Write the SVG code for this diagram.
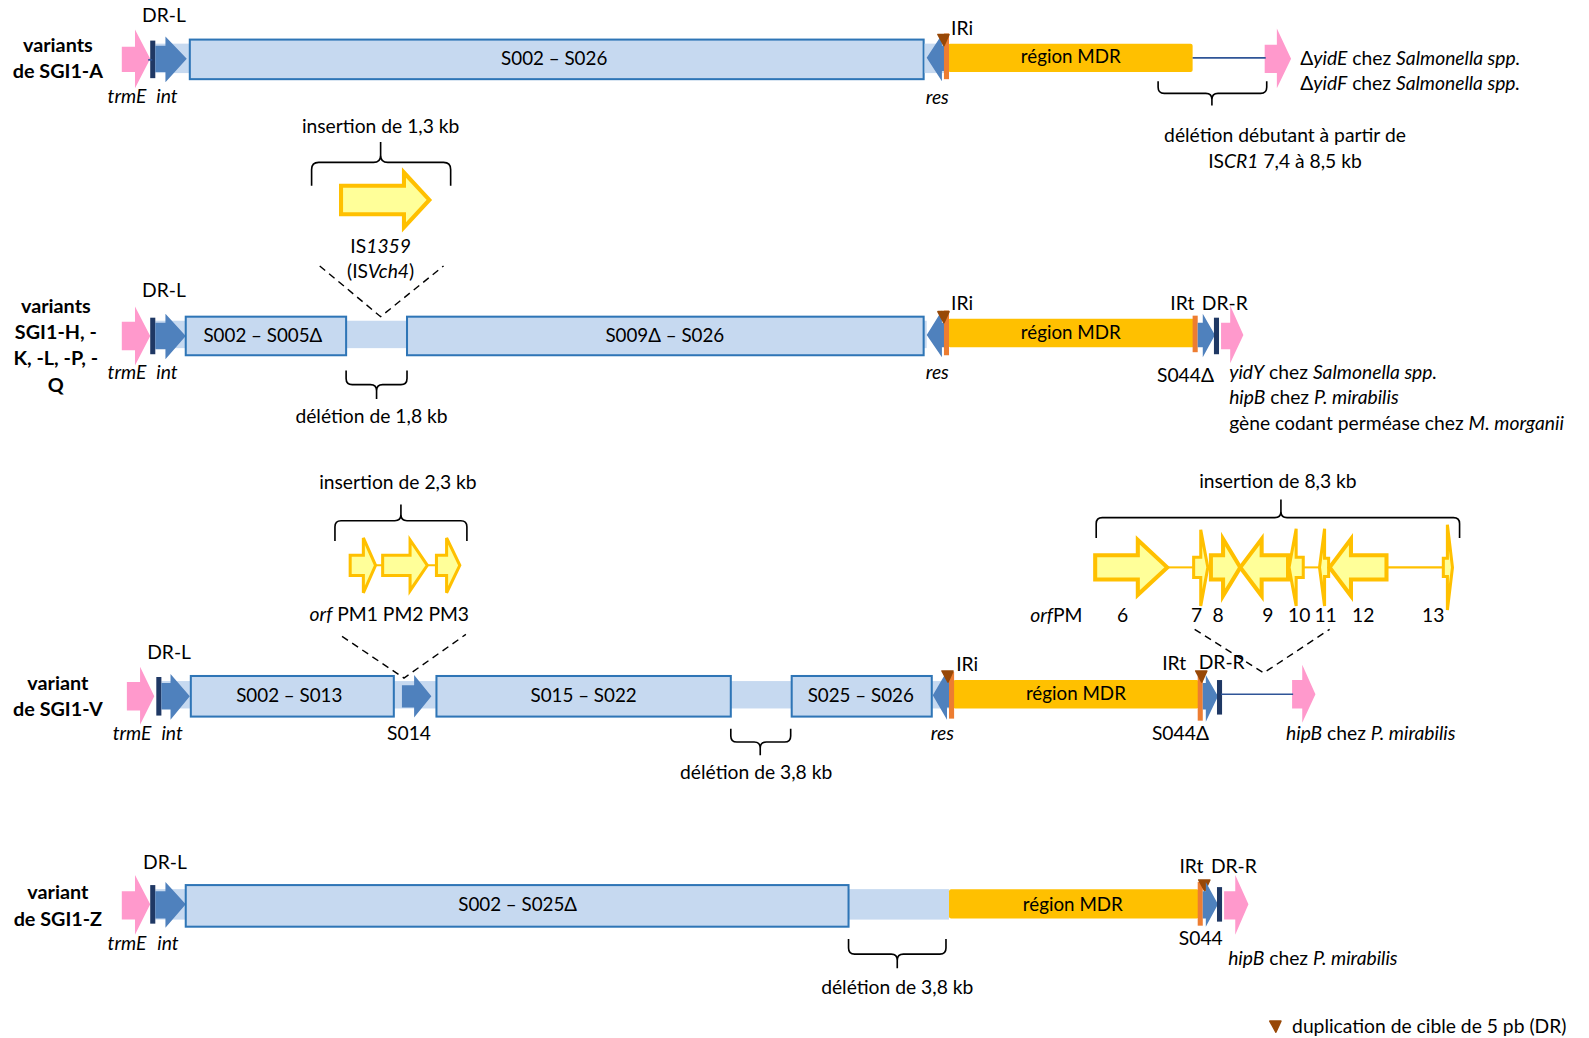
<svg xmlns="http://www.w3.org/2000/svg" width="1589" height="1038" viewBox="0 0 1589 1038">
<style>
text{font-family:Lato,"Liberation Sans",sans-serif;font-size:19px;fill:#000}
.b{font-weight:bold;font-size:19.5px}
.m{text-anchor:middle}
.s{font-size:18.5px}
.i{font-style:italic}
.box{fill:#C6D9F0;stroke:#2E75B6;stroke-width:2}
.band{fill:#C6D9F0}
.int{fill:#4F81BD}
.dr{fill:#1F3864}
.pink{fill:#FF99CC}
.mdr{fill:#FFC000}
.ir{fill:#ED7D31}
.dup{fill:#984807;stroke:#984807;stroke-width:1.5;stroke-linejoin:round}
.yel{fill:#FFFF99;stroke:#FFC000;stroke-width:4;stroke-linejoin:miter}
.yel3{fill:#FFFF99;stroke:#FFC000;stroke-width:3}
.ylin{stroke:#FFC000;stroke-width:2}
.brace{fill:none;stroke:#000;stroke-width:1.6}
.dash{stroke:#000;stroke-width:1.4;stroke-dasharray:7 5;fill:none}
.thin{stroke:#2F5597;stroke-width:1.6}
</style>
<rect width="1589" height="1038" fill="#fff"/>
<g transform="scale(1.015)">

<!-- ROW 1 -->
<g id="row1">
<text class="b m" x="57" y="51">variants</text>
<text class="b m" x="57" y="77">de SGI1-A</text>
<g id="r1-trmE"><polygon class="pink" points="120,46 133,46 133,29 148,58 133,87 133,71 120,71"/><text class="i" x="106" y="101">trmE</text></g>
<rect class="band" x="153" y="43" width="35" height="29"/>
<g id="r1-drl"><rect class="dr" x="148" y="40" width="5" height="37"/><text x="140" y="22">DR-L</text></g>
<g id="r1-int"><polygon class="int" points="153,45 163,45 163,36 184,58 163,81 163,71 153,71"/><text class="i" x="154" y="101">int</text></g>
<g id="r1-box"><rect class="box" x="187" y="39" width="723" height="39"/><text class="m s" x="546" y="64">S002 – S026</text></g>
<rect class="band" x="911" y="43" width="24" height="29"/>
<g id="r1-res"><polygon class="int" points="913,57 928,34 928,45 933,45 933,70 928,70 928,80"/><text class="i" x="912" y="102">res</text></g>
<g id="r1-mdr"><rect class="mdr" x="934" y="43" width="241" height="28" rx="2"/><text class="m s" x="1055" y="62">région MDR</text></g>
<g id="r1-iri"><rect class="ir" x="930" y="33" width="5" height="45"/><path class="dup" d="M924,34 L935,34 L930,45 Z"/><text x="937" y="34">IRi</text></g>
<g id="r1-yid"><polygon class="pink" points="1246,44 1258,44 1258,28 1272,58 1258,87 1258,72 1246,72"/>
<text x="1281" y="64">Δ<tspan class="i">yidE</tspan> chez <tspan class="i">Salmonella spp.</tspan></text>
<text x="1281" y="89">Δ<tspan class="i">yidF</tspan> chez <tspan class="i">Salmonella spp.</tspan></text></g>
<g id="r1-del"><text class="m" x="1266" y="140">délétion débutant à partir de</text>
<text class="m" x="1266" y="166">IS<tspan class="i">CR1</tspan> 7,4 à 8,5 kb</text></g>
</g>

<!-- INSERTION 1 -->
<g id="ins1">
<text class="m" x="375" y="131">insertion de 1,3 kb</text>
<polygon class="yel" points="336,183 398,183 398,170 423,197 398,224 398,211 336,211"/>
<text class="m" x="375" y="249">IS<tspan class="i">1359</tspan></text>
<text class="m" x="375" y="274">(IS<tspan class="i">Vch4</tspan>)</text>
</g>

<!-- ROW 2 -->
<g id="row2">
<text class="b m" x="55" y="308">variants</text>
<text class="b m" x="55" y="334">SGI1-H, -</text>
<text class="b m" x="55" y="360">K, -L, -P, -</text>
<text class="b m" x="55" y="386">Q</text>
<g id="r2-trmE"><polygon class="pink" points="120,317 133,317 133,302 148,331 133,360 133,345 120,345"/><text class="i" x="106" y="373">trmE</text></g>
<rect class="band" x="153" y="316" width="760" height="27"/>
<g id="r2-drl"><rect class="dr" x="148" y="313" width="5" height="36"/><text x="140" y="293">DR-L</text></g>
<g id="r2-int"><polygon class="int" points="153,318 163,318 163,309 183,331 163,354 163,344 153,344"/><text class="i" x="154" y="373">int</text></g>
<g id="r2-box1"><rect class="box" x="183" y="312" width="158" height="38"/><text class="m s" x="259" y="337">S002 – S005Δ</text></g>
<g id="r2-box2"><rect class="box" x="401" y="312" width="509" height="38"/><text class="m s" x="655" y="337">S009Δ – S026</text></g>
<g id="r2-del"><text class="m" x="366" y="417">délétion de 1,8 kb</text></g>
<g id="r2-res"><polygon class="int" points="913,330 928,306 928,318 933,318 933,342 928,342 928,352"/><text class="i" x="912" y="373">res</text></g>
<g id="r2-mdr"><rect class="mdr" x="934" y="314" width="243" height="28" rx="2"/><text class="m s" x="1055" y="334">région MDR</text></g>
<g id="r2-iri"><rect class="ir" x="930" y="306" width="5" height="44"/><path class="dup" d="M924,307 L935,307 L930,318 Z"/><text x="937" y="305">IRi</text></g>
<g id="r2-irt"><rect class="ir" x="1175" y="311" width="5" height="36"/><text x="1153" y="305">IRt</text></g>
<g id="r2-s044"><polygon class="int" points="1180,318 1185,318 1185,309 1197,330 1185,352 1185,342 1180,342"/><text class="m" x="1168" y="376">S044Δ</text></g>
<g id="r2-drr"><rect class="dr" x="1196" y="313" width="5" height="36"/><text x="1184" y="305">DR-R</text></g>
<g id="r2-yid"><polygon class="pink" points="1203,318 1212,318 1212,301 1225,330 1212,358 1212,344 1203,344"/>
<text x="1211" y="373"><tspan class="i">yidY</tspan> chez <tspan class="i">Salmonella spp.</tspan></text>
<text x="1211" y="398"><tspan class="i">hipB</tspan> chez <tspan class="i">P. mirabilis</tspan></text>
<text x="1211" y="424">gène codant perméase chez <tspan class="i">M. morganii</tspan></text></g>
</g>

<!-- INSERTION 2 -->
<g id="ins2">
<text class="m" x="392" y="482">insertion de 2,3 kb</text>
<line class="ylin" x1="368" y1="557" x2="432" y2="557"/>
<polygon class="yel3" points="345,547 358,547 358,530 370,557 358,584 358,567 345,567"/>
<polygon class="yel3" points="377,547 404,547 404,532 421,557 404,582 404,567 377,567"/>
<polygon class="yel3" points="430,547 440,547 440,530 453,557 440,584 440,567 430,567"/>
<text x="305" y="612"><tspan class="i">orf</tspan> PM1 PM2 PM3</text>
</g>

<!-- INSERTION 3 -->
<g id="ins3">
<text class="m" x="1259" y="481">insertion de 8,3 kb</text>
<line class="ylin" x1="1148" y1="559" x2="1177" y2="559"/>
<line class="ylin" x1="1283" y1="559" x2="1301" y2="559"/>
<line class="ylin" x1="1364" y1="559" x2="1424" y2="559"/>
<polygon class="yel" points="1079,547 1121,547 1121,532 1150,559 1121,586 1121,571 1079,571"/>
<polygon class="yel3" points="1176,549 1183,549 1183,522 1190,559 1183,597 1183,569 1176,569"/>
<polygon class="yel" points="1193,547 1205,547 1205,531 1222,559 1205,587 1205,571 1193,571"/>
<polygon class="yel" points="1222,559 1243,531 1243,547 1269,547 1269,571 1243,571 1243,587"/>
<polygon class="yel3" points="1270,559 1277,521 1277,549 1284,549 1284,569 1277,569 1277,597"/>
<polygon class="yel3" points="1300,559 1305,521 1305,550 1309,550 1309,568 1305,568 1305,597"/>
<polygon class="yel" points="1310,559 1331,531 1331,547 1366,547 1366,571 1331,571 1331,587"/>
<polygon class="yel3" points="1422,550 1426,550 1426,517 1431,559 1426,601 1426,568 1422,568"/>
<text x="1015" y="613"><tspan class="i">orf</tspan>PM</text>
<text class="m" x="1106" y="613">6</text>
<text class="m" x="1179" y="613">7</text>
<text class="m" x="1200" y="613">8</text>
<text class="m" x="1249" y="613">9</text>
<text class="m" x="1280" y="613">10</text>
<text class="m" x="1306" y="613">11</text>
<text class="m" x="1343" y="613">12</text>
<text class="m" x="1412" y="613">13</text>
</g>

<!-- ROW 3 -->
<g id="row3">
<text class="b m" x="57" y="680">variant</text>
<text class="b m" x="57" y="705">de SGI1-V</text>
<g id="r3-trmE"><polygon class="pink" points="125,672 138,672 138,657 152,686 138,714 138,700 125,700"/><text class="i" x="111" y="729">trmE</text></g>
<rect class="band" x="159" y="671" width="781" height="27"/>
<g id="r3-drl"><rect class="dr" x="154" y="667" width="5" height="38"/><text x="145" y="649">DR-L</text></g>
<g id="r3-int"><polygon class="int" points="159,673 168,673 168,664 187,686 168,709 168,699 159,699"/><text class="i" x="159" y="729">int</text></g>
<g id="r3-box1"><rect class="box" x="188" y="666" width="200" height="40"/><text class="m s" x="285" y="692">S002 – S013</text></g>
<g id="r3-s014"><polygon class="int" points="396,675 408,675 408,665 425,686 408,707 408,697 396,697"/><text class="m" x="403" y="729">S014</text></g>
<g id="r3-box2"><rect class="box" x="430" y="666" width="290" height="40"/><text class="m s" x="575" y="692">S015 – S022</text></g>
<g id="r3-box3"><rect class="box" x="780" y="666" width="138" height="40"/><text class="m s" x="848" y="692">S025 – S026</text></g>
<g id="r3-del"><text class="m" x="745" y="767">délétion de 3,8 kb</text></g>
<g id="r3-res"><polygon class="int" points="919,685 933,661 933,672 937,672 937,697 933,697 933,709"/><text class="i" x="917" y="729">res</text></g>
<g id="r3-mdr"><rect class="mdr" x="939" y="670" width="242" height="28" rx="2"/><text class="m s" x="1060" y="690">région MDR</text></g>
<g id="r3-iri"><rect class="ir" x="935" y="662" width="5" height="46"/><path class="dup" d="M928,661 L939,661 L934,672 Z"/><text x="942" y="661">IRi</text></g>
<g id="r3-irt"><rect class="ir" x="1180" y="666" width="5" height="44"/><path class="dup" d="M1178,661 L1189,661 L1184,672 Z"/><text x="1145" y="660">IRt</text></g>
<g id="r3-s044"><polygon class="int" points="1185,673 1188,673 1188,665 1200,686 1188,711 1188,699 1185,699"/><text class="m" x="1163" y="729">S044Δ</text></g>
<g id="r3-drr"><rect class="dr" x="1199" y="670" width="5" height="34"/><text x="1181" y="659">DR-R</text></g>
<g id="r3-hipb"><polygon class="pink" points="1273,670 1283,670 1283,655 1296,684 1283,712 1283,698 1273,698"/>
<text x="1267" y="729"><tspan class="i">hipB</tspan> chez <tspan class="i">P. mirabilis</tspan></text></g>
</g>

<!-- ROW 4 -->
<g id="row4">
<text class="b m" x="57" y="886">variant</text>
<text class="b m" x="57" y="912">de SGI1-Z</text>
<g id="r4-trmE"><polygon class="pink" points="120,878 133,878 133,862 148,891 133,921 133,906 120,906"/><text class="i" x="106" y="936">trmE</text></g>
<rect class="band" x="153" y="876" width="782" height="30"/>
<g id="r4-drl"><rect class="dr" x="148" y="872" width="5" height="38"/><text x="141" y="856">DR-L</text></g>
<g id="r4-int"><polygon class="int" points="153,878 163,878 163,869 183,891 163,914 163,905 153,905"/><text class="i" x="155" y="936">int</text></g>
<g id="r4-box"><rect class="box" x="183" y="872" width="653" height="41"/><text class="m s" x="510" y="898">S002 – S025Δ</text></g>
<g id="r4-del"><text class="m" x="884" y="979">délétion de 3,8 kb</text></g>
<g id="r4-mdr"><rect class="mdr" x="935" y="876" width="246" height="29" rx="2"/><text class="m s" x="1057" y="898">région MDR</text></g>
<g id="r4-irt"><rect class="ir" x="1180" y="869" width="5" height="43"/><path class="dup" d="M1181,867 L1192,867 L1187,878 Z"/><text x="1162" y="860">IRt</text></g>
<g id="r4-s044"><polygon class="int" points="1185,878 1188,878 1188,869 1200,891 1188,913 1188,905 1185,905"/><text class="m" x="1183" y="931">S044</text></g>
<g id="r4-drr"><rect class="dr" x="1199" y="874" width="5" height="34"/><text x="1193" y="860">DR-R</text></g>
<g id="r4-hipb"><polygon class="pink" points="1206,878 1217,878 1217,862 1230,891 1217,921 1217,906 1206,906"/>
<text x="1210" y="951"><tspan class="i">hipB</tspan> chez <tspan class="i">P. mirabilis</tspan></text></g>
</g>

<!-- LEGEND -->
<g id="legend"><path class="dup" d="M1251,1006 L1262,1006 L1257,1017 Z"/><text x="1273" y="1018">duplication de cible de 5 pb (DR)</text></g>

<!-- CONNECTORS -->
<g id="connectors">
<line class="thin" x1="146" y1="59" x2="150" y2="59"/>
<line class="thin" x1="1175" y1="57" x2="1247" y2="57"/>
<line class="thin" x1="1203" y1="684" x2="1274" y2="684"/>
<path class="brace" d="M1141,80 L1141,86 Q1141,92 1147,92 L1188,92 Q1194,92 1194,98 L1194,104 M1194,98 Q1194,92 1200,92 L1242,92 Q1248,92 1248,86 L1248,80"/>
<path class="brace" d="M307,183 L307,167 Q307,160 314,160 L368,160 Q375,160 375,153 L375,140 M375,153 Q375,160 382,160 L437,160 Q444,160 444,167 L444,183"/>
<path class="brace" d="M341,365 L341,373 Q341,379 347,379 L365,379 Q371,379 371,385 L371,393 M371,385 Q371,379 377,379 L395,379 Q401,379 401,373 L401,365"/>
<path class="brace" d="M330,533 L330,519 Q330,513 336,513 L389,513 Q395,513 395,507 L395,497 M395,507 Q395,513 401,513 L454,513 Q460,513 460,519 L460,533"/>
<path class="brace" d="M1080,530 L1080,516 Q1080,510 1086,510 L1256,510 Q1262,510 1262,504 L1262,492 M1262,504 Q1262,510 1268,510 L1432,510 Q1438,510 1438,516 L1438,530"/>
<path class="brace" d="M720,718 L720,725 Q720,731 726,731 L743,731 Q749,731 749,737 L749,744 M749,737 Q749,731 755,731 L773,731 Q779,731 779,725 L779,718"/>
<path class="brace" d="M836,925 L836,934 Q836,940 842,940 L878,940 Q884,940 884,946 L884,954 M884,946 Q884,940 890,940 L926,940 Q932,940 932,934 L932,925"/>
<polyline class="dash" points="315,262 375,312 437,262"/>
<polyline class="dash" points="337,627 398,668 459,625"/>
<polyline class="dash" points="1177,620 1245,663 1310,620"/>
</g>
</g>
</svg>
